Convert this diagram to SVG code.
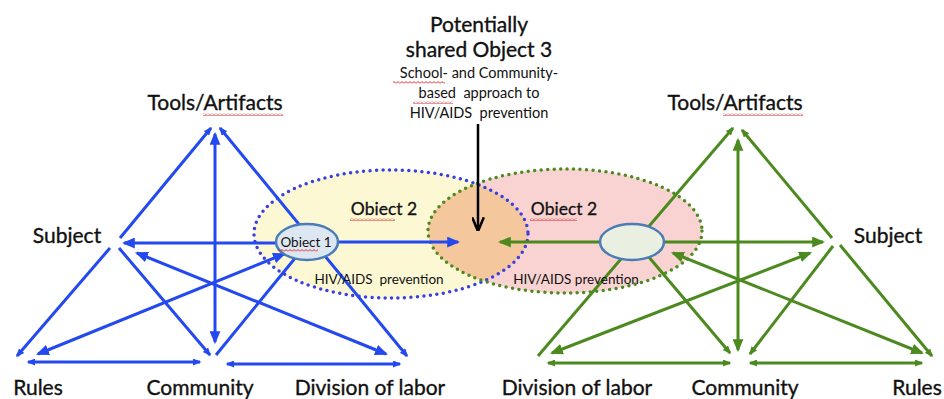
<svg xmlns="http://www.w3.org/2000/svg" width="944" height="399" viewBox="0 0 944 399">
<style>
.t{font-family:Lato,"Open Sans","Liberation Sans",sans-serif;fill:#111111;text-anchor:middle}
.lbl{font-size:21px;stroke:#111111;stroke-width:0.35}
.obj{font-size:17.5px;stroke:#111111;stroke-width:0.3}
.sm{font-size:13.5px}
.b{stroke:#2349ef;stroke-width:3;fill:none}
.g{stroke:#4c8a1f;stroke-width:3;fill:none}
</style>
<defs>
<marker id="bb" viewBox="0 0 12 10" refX="10" refY="5" markerWidth="13" markerHeight="11" markerUnits="userSpaceOnUse" orient="auto-start-reverse"><path d="M0,0 L12,5 L0,10 Z" fill="#2349ef"/></marker>
<marker id="bs" viewBox="0 0 12 10" refX="10" refY="5" markerWidth="10" markerHeight="7" markerUnits="userSpaceOnUse" orient="auto-start-reverse"><path d="M0,0 L12,5 L0,10 Z" fill="#2349ef"/></marker>
<marker id="gb" viewBox="0 0 12 10" refX="10" refY="5" markerWidth="13" markerHeight="11" markerUnits="userSpaceOnUse" orient="auto-start-reverse"><path d="M0,0 L12,5 L0,10 Z" fill="#4c8a1f"/></marker>
<marker id="gs" viewBox="0 0 12 10" refX="10" refY="5" markerWidth="10" markerHeight="7" markerUnits="userSpaceOnUse" orient="auto-start-reverse"><path d="M0,0 L12,5 L0,10 Z" fill="#4c8a1f"/></marker>
<marker id="kb" viewBox="0 0 12 10" refX="10" refY="5" markerWidth="14" markerHeight="13" markerUnits="userSpaceOnUse" orient="auto"><path d="M0,0 L12,5 L0,10" fill="none" stroke="#000" stroke-width="2.2"/></marker>
<pattern id="wavy" width="4" height="3" patternUnits="userSpaceOnUse"><path d="M0,2.5 L2,0.5 L4,2.5" stroke="#e02424" stroke-width="1" fill="none"/></pattern>
<clipPath id="clipL"><ellipse cx="391" cy="234" rx="137" ry="64"/></clipPath>
</defs>
<rect width="944" height="399" fill="#ffffff"/>

<g id="object2-left">
<ellipse cx="391" cy="234" rx="137" ry="64" fill="#fcf8d4"/>
</g>
<g id="object2-right">
<ellipse cx="565" cy="231" rx="137" ry="62" fill="#f8d3d1"/>
<ellipse cx="565" cy="231" rx="137" ry="62" fill="#f4c79d" clip-path="url(#clipL)"/>
</g>
<g id="object2-borders">
<ellipse cx="391" cy="234" rx="137" ry="64" fill="none" stroke="#3a3fe0" stroke-width="3.5" stroke-linecap="round" stroke-dasharray="0 6.5"/>
<ellipse cx="565" cy="231" rx="137" ry="62" fill="none" stroke="#4c8a1f" stroke-width="3.5" stroke-linecap="round" stroke-dasharray="0 6.5"/>
</g>

<g id="connectors">
<!-- left system -->
<line class="b" x1="120" y1="238" x2="211" y2="128" marker-end="url(#bs)"/>
<line class="b" x1="220" y1="128" x2="407" y2="356" marker-start="url(#bs)" marker-end="url(#bs)"/>
<line class="b" x1="110" y1="248" x2="17" y2="356" marker-end="url(#bs)"/>
<line class="b" x1="119" y1="248" x2="210" y2="355" marker-end="url(#bs)"/>
<line class="b" x1="215" y1="134" x2="215" y2="342" marker-start="url(#bb)" marker-end="url(#bb)"/>
<line class="b" x1="278" y1="243" x2="124" y2="243" marker-end="url(#bb)"/>
<line class="b" x1="216" y1="355" x2="296" y2="257"/>
<line class="b" x1="38" y1="354" x2="284" y2="254" marker-start="url(#bb)" marker-end="url(#bb)"/>
<line class="b" x1="137" y1="253" x2="386" y2="354" marker-start="url(#bb)" marker-end="url(#bb)"/>
<line class="b" x1="28" y1="362" x2="200" y2="362" marker-start="url(#bs)" marker-end="url(#bs)"/>
<line class="b" x1="227" y1="364" x2="400" y2="364" marker-start="url(#bs)" marker-end="url(#bs)"/>
<line class="b" x1="338" y1="242" x2="458" y2="242" marker-end="url(#bb)"/>
<!-- right system -->
<line class="g" x1="538" y1="356" x2="733" y2="128" marker-end="url(#gs)"/>
<line class="g" x1="832" y1="238" x2="742" y2="130" marker-end="url(#gs)"/>
<line class="g" x1="738" y1="140" x2="738" y2="350" marker-start="url(#gb)" marker-end="url(#gb)"/>
<line class="g" x1="664" y1="242" x2="823" y2="242" marker-end="url(#gb)"/>
<line class="g" x1="600" y1="242" x2="500" y2="242" marker-end="url(#gb)"/>
<line class="g" x1="840" y1="245" x2="932" y2="356" marker-end="url(#gs)"/>
<line class="g" x1="833" y1="246" x2="750" y2="354" marker-end="url(#gs)"/>
<line class="g" x1="648" y1="256" x2="730" y2="353" marker-end="url(#gs)"/>
<line class="g" x1="552" y1="353" x2="810" y2="253" marker-start="url(#gb)" marker-end="url(#gb)"/>
<line class="g" x1="673" y1="253" x2="922" y2="353" marker-start="url(#gb)" marker-end="url(#gb)"/>
<line class="g" x1="548" y1="363" x2="730" y2="363" marker-start="url(#gs)" marker-end="url(#gs)"/>
<line class="g" x1="750" y1="363" x2="922" y2="363" marker-start="url(#gs)" marker-end="url(#gs)"/>
<!-- shared object arrow -->
<line x1="478" y1="124" x2="478" y2="229" stroke="#000" stroke-width="2.5" marker-end="url(#kb)"/>
</g>

<g id="object1">
<ellipse cx="307" cy="242" rx="31" ry="18" fill="#dde7f1" stroke="#4a7cb5" stroke-width="2.5"/>
<text class="t sm" x="306" y="247">Obiect 1</text>
<rect x="278" y="249" width="40" height="3" fill="url(#wavy)"/>
</g>
<g id="object1-right">
<ellipse cx="632" cy="242" rx="32" ry="18" fill="#e9f0e2" stroke="#4a7cb5" stroke-width="2.5"/>
</g>

<g id="labels-object2">
<text class="t obj" x="384" y="215">Obiect 2</text>
<rect x="350" y="218" width="45" height="3" fill="url(#wavy)"/>
<text class="t obj" x="564" y="215">Obiect 2</text>
<rect x="530" y="218" width="47" height="3" fill="url(#wavy)"/>
<text class="t sm" x="379" y="284" xml:space="preserve">HIV/AIDS  prevention</text>
<text class="t sm" x="576" y="284">HIV/AIDS prevention</text>
</g>

<g id="object3">
<text class="t lbl" x="479" y="32">Potentially</text>
<text class="t lbl" x="479" y="57">shared Object 3</text>
<text class="t" style="font-size:14.5px" x="479" y="78">School- and Community-</text>
<rect x="393" y="81" width="52" height="3" fill="url(#wavy)"/>
<text class="t" style="font-size:14.5px" x="479" y="98" xml:space="preserve">based  approach to</text>
<rect x="413" y="101" width="40" height="3" fill="url(#wavy)"/>
<text class="t" style="font-size:14.5px" x="479" y="118" xml:space="preserve">HIV/AIDS  prevention</text>
</g>

<g id="left-tools"><text class="t lbl" x="215" y="110">Tools/Artifacts</text><rect x="203" y="113" width="80" height="3" fill="url(#wavy)"/></g>
<g id="left-subject"><text class="t lbl" x="67" y="243">Subject</text></g>
<g id="left-rules"><text class="t lbl" x="38" y="395">Rules</text></g>
<g id="left-community"><text class="t lbl" x="200" y="395">Community</text></g>
<g id="left-division"><text class="t lbl" x="370" y="395">Division of labor</text></g>

<g id="right-tools"><text class="t lbl" x="735" y="110">Tools/Artifacts</text><rect x="723" y="113" width="80" height="3" fill="url(#wavy)"/></g>
<g id="right-subject"><text class="t lbl" x="888" y="243">Subject</text></g>
<g id="right-division"><text class="t lbl" x="577" y="395">Division of labor</text></g>
<g id="right-community"><text class="t lbl" x="745" y="395">Community</text></g>
<g id="right-rules"><text class="t lbl" x="917" y="395">Rules</text></g>
</svg>
